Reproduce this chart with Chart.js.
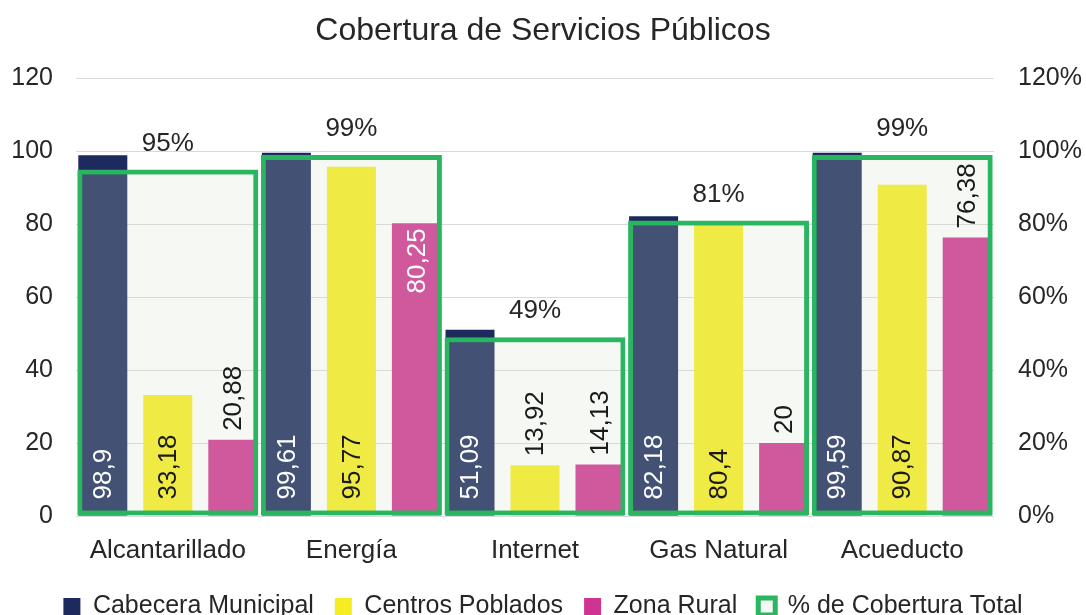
<!DOCTYPE html>
<html><head><meta charset="utf-8">
<script src="https://cdn.jsdelivr.net/npm/chart.js@4.4.1/dist/chart.umd.min.js"></script>
<style>html,body{margin:0;padding:0;background:#fff;} #wrap{width:1086px;height:615px;position:relative;}</style>
</head><body><div id="wrap"><canvas id="c" width="1086" height="615"></canvas></div>
<script>
const categories = ['Alcantarillado', 'Energía', 'Internet', 'Gas Natural', 'Acueducto'];
const cabeceraMunicipal = [98.9, 99.61, 51.09, 82.18, 99.59];
const centrosPoblados = [33.18, 95.77, 13.92, 80.4, 90.87];
const zonaRural = [20.88, 80.25, 14.13, 20, 76.38];
const coberturaTotal = [95, 99, 49, 81, 99];
const leftTickLabels = ['0', '20', '40', '60', '80', '100', '120'];
const rightTickLabels = ['0%', '20%', '40%', '60%', '80%', '100%', '120%'];

const FONT = "'Liberation Sans', Arial, sans-serif";
Chart.defaults.font.family = FONT;
Chart.defaults.color = '#262626';

const labelPlacement = {
  0: { mode: ['base', 'base', 'base', 'base', 'base'], inColor: '#ffffff' },
  1: { mode: ['auto', 'auto', 'auto', 'auto', 'auto'], inColor: '#1a1a1a' },
  2: { mode: ['out', 'end', 'out', 'out', 'out'], inColor: '#ffffff' }
};

const valueLabels = {
  id: 'valueLabels',
  afterDatasetsDraw(chart) {
    const ctx = chart.ctx;
    ctx.save();
    ctx.font = '26px ' + FONT;
    chart.data.datasets.forEach((ds, di) => {
      const meta = chart.getDatasetMeta(di);
      meta.data.forEach((bar, i) => {
        const v = ds.data[i];
        const p = bar.getProps(['x', 'y', 'base'], true);
        if (di === 3) {
          ctx.textAlign = 'center';
          ctx.textBaseline = 'middle';
          ctx.fillStyle = '#262626';
          ctx.fillText(v + '%', p.x, p.y - 26);
          return;
        }
        const txt = String(v).replace('.', ',');
        const w = ctx.measureText(txt).width;
        const cfg = labelPlacement[di];
        let mode = cfg.mode[i];
        const h = p.base - p.y;
        if (mode === 'auto') mode = (w + 24 < h) ? 'base' : 'out';
        ctx.save();
        ctx.textBaseline = 'middle';
        let ys, color;
        if (mode === 'base') { ys = p.base - 16; ctx.textAlign = 'left'; color = cfg.inColor; }
        else if (mode === 'end') { ys = p.y + 5; ctx.textAlign = 'right'; color = cfg.inColor; }
        else { ys = p.y - 9; ctx.textAlign = 'left'; color = '#1a1a1a'; }
        ctx.translate(p.x + 1, ys);
        ctx.rotate(-Math.PI / 2);
        ctx.fillStyle = color;
        ctx.fillText(txt, 0, 0);
        ctx.restore();
      });
    });
    ctx.restore();
  }
};

new Chart(document.getElementById('c'), {
  type: 'bar',
  data: {
    labels: categories,
    datasets: [
      { label: 'Cabecera Municipal', data: cabeceraMunicipal, backgroundColor: '#1c2a5e', yAxisID: 'y',
        categoryPercentage: 1.062, barPercentage: 0.754, borderWidth: 0 },
      { label: 'Centros Poblados', data: centrosPoblados, backgroundColor: '#f6ec22', yAxisID: 'y',
        categoryPercentage: 1.062, barPercentage: 0.754, borderWidth: 0 },
      { label: 'Zona Rural', data: zonaRural, backgroundColor: '#cf3492', yAxisID: 'y',
        categoryPercentage: 1.062, barPercentage: 0.754, borderWidth: 0 },
      { label: '% de Cobertura Total', data: coberturaTotal, yAxisID: 'y1', grouped: false, order: -1,
        backgroundColor: 'rgba(214,226,200,0.21)', borderColor: '#2ab561', borderWidth: 5, borderSkipped: false,
        categoryPercentage: 1, barPercentage: 0.986 }
    ]
  },
  options: {
    responsive: false,
    animation: false,
    devicePixelRatio: 1,
    layout: { padding: { left: 0, right: 0, top: 0, bottom: 0 } },
    plugins: {
      title: { display: true, text: 'Cobertura de Servicios Públicos', color: '#262626',
        font: { size: 32, weight: 'normal' }, padding: { top: 12, bottom: 28 } },
      legend: {
        position: 'bottom', maxHeight: 42,
        labels: { boxWidth: 17, boxHeight: 17, padding: 21, color: '#262626', font: { size: 25 },
          sort: (a, b) => a.datasetIndex - b.datasetIndex }
      },
      tooltip: { enabled: false }
    },
    scales: {
      x: {
        grid: { display: false, drawTicks: false }, border: { display: false },
        ticks: { font: { size: 26 }, color: '#262626', padding: 19 },
        afterFit: s => { s.height = 57; }
      },
      y: {
        position: 'left', min: 0, max: 120,
        grid: { color: '#d9d9d9', lineWidth: 1, drawTicks: false, tickLength: 0 }, border: { display: false },
        ticks: { stepSize: 20, font: { size: 25 }, color: '#262626', padding: 23,
          callback: (v) => leftTickLabels[v / 20] },
        afterFit: s => { s.width = 76; }
      },
      y1: {
        position: 'right', min: 0, max: 120,
        grid: { drawOnChartArea: false, drawTicks: false, tickLength: 0 }, border: { display: false },
        ticks: { stepSize: 20, font: { size: 25 }, color: '#262626', padding: 24,
          callback: (v) => rightTickLabels[v / 20] },
        afterFit: s => { s.width = 92; }
      }
    }
  },
  plugins: [valueLabels]
});
</script>
</body></html>
